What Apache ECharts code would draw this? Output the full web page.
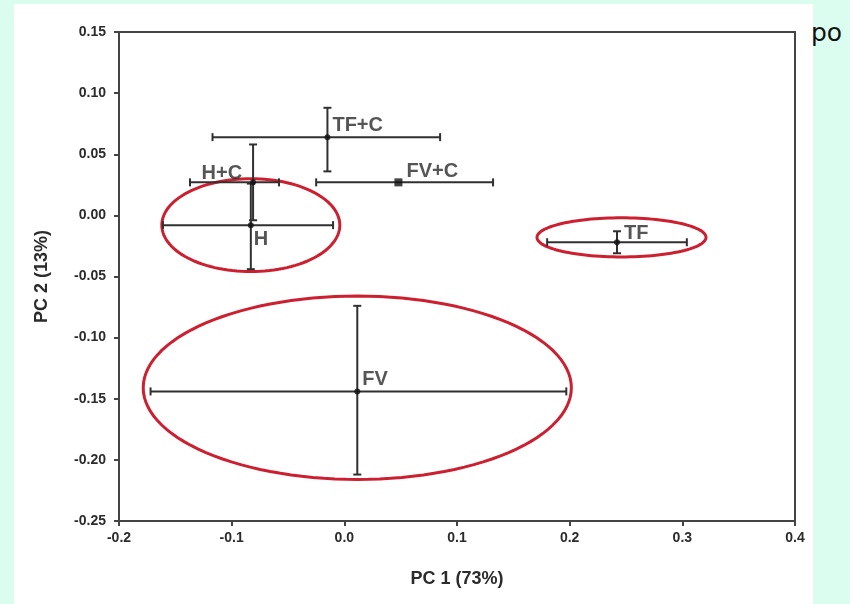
<!DOCTYPE html>
<html>
<head>
<meta charset="utf-8">
<script src="https://cdn.jsdelivr.net/npm/echarts@6/dist/echarts.min.js"></script>
<style>
  html, body { margin: 0; padding: 0; background: #dbfdf0; width: 850px; height: 604px; overflow: hidden; }
  #paper { position: absolute; left: 14px; top: 4px; width: 799px; height: 600px; background: #ffffff; }
  #chart { position: absolute; left: 0; top: 0; width: 850px; height: 604px; }
  #stray { position: absolute; left: 811px; top: 20px; line-height: 1; font-family: "DejaVu Sans", "Noto Sans", sans-serif; font-size: 25px; color: #111; }
</style>
</head>
<body>
<div id="paper"></div>
<div id="stray">po</div>
<div id="chart"></div>
<script>
// ---- data ----
const groups  = ['TF+C', 'FV+C', 'H+C', 'H', 'TF', 'FV'];
const pc1     = [-0.015, 0.048, -0.081, -0.083, 0.242, 0.0115];
const pc2     = [0.064, 0.027, 0.027, -0.008, -0.022, -0.144];
const pc1Low  = [-0.117, -0.025, -0.137, -0.161, 0.180, -0.172];
const pc1High = [0.085, 0.132, -0.058, -0.010, 0.304, 0.197];
const pc2Low  = [0.036, 0.027, -0.004, -0.044, -0.031, -0.212];
const pc2High = [0.088, 0.027, 0.058, 0.026, -0.013, -0.074];

const ellipseGroups = ['H', 'TF', 'FV'];
const ellipseCx = [-0.083, 0.246, 0.0115];
const ellipseCy = [-0.008, -0.018, -0.141];
const ellipseRx = [0.079, 0.075, 0.190];
const ellipseRy = [0.038, 0.016, 0.075];

const xTicks = [-0.2, -0.1, 0.0, 0.1, 0.2, 0.3, 0.4];
const yTicks = [0.15, 0.10, 0.05, 0.00, -0.05, -0.10, -0.15, -0.20, -0.25];

// ---- label placement (presentation only) ----
const labelPlace = {
  'TF+C': { position: 'right', offset: [-3, -12] },
  'FV+C': { position: 'right', offset: [-1, -11] },
  'H+C':  { position: 'left',  offset: [-3, -9] },
  'H':    { position: 'right', offset: [-5, 14] },
  'TF':   { position: 'right', offset: [-1, -9] },
  'FV':   { position: 'right', offset: [-3, -12] }
};
const markerShape = { 'FV+C': 'rect' };

const ink = '#2b2b2b';
const fam = 'Liberation Sans, Arial, sans-serif';
const chart = echarts.init(document.getElementById('chart'), null, { renderer: 'canvas' });

const errData = groups.map((g, i) => [pc1[i], pc2[i], pc1Low[i], pc1High[i], pc2Low[i], pc2High[i]]);
const ellData = ellipseGroups.map((g, i) => [ellipseCx[i], ellipseCy[i], ellipseRx[i], ellipseRy[i]]);

function renderErr(params, api) {
  const x = api.value(0), y = api.value(1);
  const xl = api.value(2), xh = api.value(3), yl = api.value(4), yh = api.value(5);
  const pL = api.coord([xl, y]), pR = api.coord([xh, y]);
  const pB = api.coord([x, yl]), pT = api.coord([x, yh]);
  const cap = 4;
  const st = { stroke: '#303030', lineWidth: 2 };
  const children = [
    { type: 'line', shape: { x1: pL[0], y1: pL[1], x2: pR[0], y2: pR[1] }, style: st },
    { type: 'line', shape: { x1: pL[0], y1: pL[1] - cap, x2: pL[0], y2: pL[1] + cap }, style: st },
    { type: 'line', shape: { x1: pR[0], y1: pR[1] - cap, x2: pR[0], y2: pR[1] + cap }, style: st }
  ];
  if (Math.abs(pB[1] - pT[1]) > 2) {
    children.push(
      { type: 'line', shape: { x1: pB[0], y1: pB[1], x2: pT[0], y2: pT[1] }, style: st },
      { type: 'line', shape: { x1: pB[0] - cap, y1: pB[1], x2: pB[0] + cap, y2: pB[1] }, style: st },
      { type: 'line', shape: { x1: pT[0] - cap, y1: pT[1], x2: pT[0] + cap, y2: pT[1] }, style: st }
    );
  }
  return { type: 'group', children: children };
}

function renderEllipse(params, api) {
  const cx = api.value(0), cy = api.value(1), rx = api.value(2), ry = api.value(3);
  const pts = [];
  const n = 120;
  for (let k = 0; k < n; k++) {
    const t = 2 * Math.PI * k / n;
    pts.push(api.coord([cx + rx * Math.cos(t), cy + ry * Math.sin(t)]));
  }
  return { type: 'polygon', shape: { points: pts }, style: { fill: 'none', stroke: '#cc2030', lineWidth: 3 } };
}

const axisLabelStyle = { color: ink, fontFamily: fam, fontWeight: 'bold', fontSize: 14 };

chart.setOption({
  backgroundColor: 'transparent',
  animation: false,
  grid: { left: 119, right: 55, top: 32, bottom: 83, show: true, borderColor: '#444', borderWidth: 2, backgroundColor: 'transparent' },
  xAxis: {
    type: 'value', min: -0.2, max: 0.4, interval: 0.1,
    name: 'PC 1 (73%)', nameLocation: 'middle', nameGap: 49,
    nameTextStyle: { color: ink, fontFamily: fam, fontWeight: 'bold', fontSize: 18 },
    axisLine: { show: true, onZero: false, lineStyle: { color: '#444', width: 2 } },
    axisTick: { show: true, inside: false, length: 5, lineStyle: { color: '#444', width: 2 } },
    axisLabel: Object.assign({ margin: 10, formatter: v => { const t = xTicks.find(q => Math.abs(q - v) < 1e-9); return (t === undefined ? v : t).toFixed(1); } }, axisLabelStyle),
    splitLine: { show: false }
  },
  yAxis: {
    type: 'value', min: -0.25, max: 0.15, interval: 0.05,
    name: 'PC 2 (13%)', nameLocation: 'middle', nameGap: 68, nameRotate: 90,
    nameTextStyle: { color: ink, fontFamily: fam, fontWeight: 'bold', fontSize: 18 },
    axisLine: { show: true, onZero: false, lineStyle: { color: '#444', width: 2 } },
    axisTick: { show: true, inside: false, length: 5, lineStyle: { color: '#444', width: 2 } },
    axisLabel: Object.assign({ margin: 13, formatter: v => { const t = yTicks.find(q => Math.abs(q - v) < 1e-9); return (t === undefined ? v : t).toFixed(2); } }, axisLabelStyle),
    splitLine: { show: false }
  },
  series: [
    {
      type: 'custom', name: 'ellipses', coordinateSystem: 'cartesian2d',
      renderItem: renderEllipse, data: ellData, z: 3, silent: true,
      encode: { x: [0], y: [1] }, clip: false
    },
    {
      type: 'custom', name: 'errors', coordinateSystem: 'cartesian2d',
      renderItem: renderErr, data: errData, z: 4, silent: true,
      encode: { x: [0, 2, 3], y: [1, 4, 5] }
    },
    {
      type: 'scatter', name: 'centres', z: 5,
      data: groups.map((g, i) => ({
        name: g,
        value: [pc1[i], pc2[i]],
        symbol: markerShape[g] || 'circle',
        symbolSize: markerShape[g] ? 8 : 6,
        label: {
          show: true, formatter: g,
          position: labelPlace[g].position, offset: labelPlace[g].offset,
          color: ink, fontFamily: fam, fontWeight: 'bold', fontSize: 20
        }
      })),
      itemStyle: { color: '#111' }
    }
  ]
});
</script>
</body>
</html>
